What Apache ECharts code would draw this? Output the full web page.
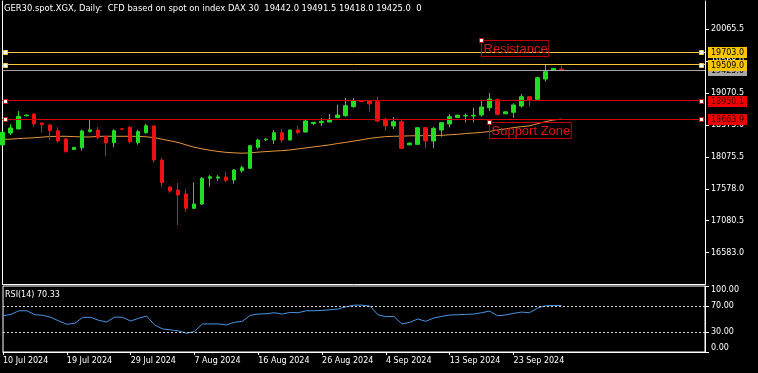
<!DOCTYPE html>
<html><head><meta charset="utf-8">
<script src="https://cdn.jsdelivr.net/npm/echarts@6/dist/echarts.min.js"></script>
<style>html,body{margin:0;padding:0;background:#000;}#c{width:758px;height:373px;}</style>
</head><body><div id="c"></div>
<script>
const dates = ['10 Jul 2024','11 Jul 2024','12 Jul 2024','14 Jul 2024','15 Jul 2024','16 Jul 2024','17 Jul 2024','18 Jul 2024','19 Jul 2024','21 Jul 2024','22 Jul 2024','23 Jul 2024','24 Jul 2024','25 Jul 2024','26 Jul 2024','28 Jul 2024','29 Jul 2024','30 Jul 2024','31 Jul 2024',
'1 Aug 2024','2 Aug 2024','4 Aug 2024','5 Aug 2024','6 Aug 2024','7 Aug 2024','8 Aug 2024','9 Aug 2024','11 Aug 2024','12 Aug 2024','13 Aug 2024','14 Aug 2024','15 Aug 2024','16 Aug 2024','18 Aug 2024','19 Aug 2024','20 Aug 2024','21 Aug 2024','22 Aug 2024','23 Aug 2024','25 Aug 2024','26 Aug 2024','27 Aug 2024','28 Aug 2024','29 Aug 2024','30 Aug 2024',
'1 Sep 2024','2 Sep 2024','3 Sep 2024','4 Sep 2024','5 Sep 2024','6 Sep 2024','8 Sep 2024','9 Sep 2024','10 Sep 2024','11 Sep 2024','12 Sep 2024','13 Sep 2024','15 Sep 2024','16 Sep 2024','17 Sep 2024','18 Sep 2024','19 Sep 2024','20 Sep 2024','22 Sep 2024','23 Sep 2024','24 Sep 2024','25 Sep 2024','26 Sep 2024','27 Sep 2024','29 Sep 2024','30 Sep 2024'];

const openP  = [18260,18446,18509,18715,18742,18602,18571,18482,18353,18190,18217,18470,18493,18390,18296,18512,18535,18296,18451,18555,18026,17606,17559,17497,17274,17341,17741,17745,17761,17715,17858,17897,18224,18342,18337,18451,18337,18493,18462,18595,18607,18618,18685,18716,18857,18950,18945,18934,18660,18555,18622,18262,18270,18529,18322,18493,18587,18688,18712,18710,18727,18840,18965,18745,18769,18867,19012,18971,19287,19425,19442.0];
const highP  = [18470,18582,18790,18735,18757,18605,18591,18535,18368,18225,18498,18664,18540,18395,18504,18518,18555,18493,18591,18571,18062,17610,17668,17575,17679,17761,17792,17792,17839,17886,17937,18260,18357,18372,18493,18513,18498,18560,18664,18615,18680,18742,18887,18991,18991,18955,18950,19012,18685,18695,18650,18295,18535,18535,18540,18618,18742,18728,18753,18840,18945,19069,18987,18780,18909,19054,19027,19323,19516,19455,19491.5];
const lowP   = [18250,18415,18505,18705,18545,18451,18340,18296,18141,18188,18171,18455,18350,18088,18224,18500,18286,18264,18436,17984,17606,17517,17014,17221,17263,17325,17610,17700,17679,17657,17828,17891,18192,18318,18275,18296,18333,18426,18451,18566,18555,18615,18680,18700,18840,18932,18778,18618,18482,18509,18200,18255,18262,18208,18208,18389,18535,18684,18613,18613,18700,18789,18716,18740,18685,18840,18856,18965,19245,19420,19418.0];
const closeP = [18457,18524,18706,18725,18587,18575,18482,18322,18155,18222,18478,18495,18375,18292,18482,18505,18311,18467,18560,18026,17673,17543,17481,17274,17341,17741,17766,17762,17710,17870,17905,18249,18337,18350,18451,18337,18493,18451,18633,18612,18628,18660,18727,18872,18945,18937,18900,18633,18560,18622,18208,18290,18529,18322,18519,18607,18700,18725,18720,18722,18851,18976,18737,18776,18882,19012,18962,19307,19401,19452,19425.0];

const maValues = [18348,18350,18360,18366,18372,18382,18392,18395,18395,18390,18385,18385,18394,18396,18396,18395,18395,18394,18388,18375,18350,18325,18300,18262,18226,18200,18178,18160,18145,18138,18132,18136,18148,18157,18165,18172,18182,18198,18214,18230,18246,18262,18283,18300,18320,18340,18362,18377,18390,18395,18398,18402,18404,18405,18406,18410,18418,18426,18438,18446,18456,18470,18492,18510,18530,18545,18557,18590,18622,18648,18664];

const rsiValues = [55,57,62.5,62.5,56.5,55.5,52.5,47,42,43.5,52.5,52.5,48,45.5,53,52.5,47,51,54.5,41,35,33.5,32,28.5,31,42.5,42.5,42.5,41,45,46.5,55.5,57.5,58,59.5,57.5,60,59.5,62.5,62.5,63,64,65,68.5,71,71,69.5,56.5,53.5,54,42.5,45,50,46.5,51.5,54,56,56.5,57,57.5,59.5,62,55,56,58.5,60.5,59.5,66.5,70,70.5,70.33];

const priceTicks = [16583.0,17080.5,17578.0,18075.5,18573.0,19070.5,19568.0,20065.5];
const rsiTicks = [0,30,70,100];
const rsiLevels = [30,70];
const hLines = [
  {price:19425.0, kind:'bid'},
  {price:19703.0, kind:'res'},
  {price:19509.0, kind:'res'},
  {price:18950.1, kind:'sup'},
  {price:18663.9, kind:'sup'}
];
const textNotes = [
  {text:'Resistance', bar:60, price:19894},
  {text:'Support Zone', bar:61, price:18622}
];
const titleText = 'GER30.spot.XGX, Daily:  CFD based on spot on index DAX 30  19442.0 19491.5 19418.0 19425.0  0';
const rsiTitle = 'RSI(14) 70.33';
const emptySlots = 18;

const FONT = 'DejaVu Sans';
const nSlots = dates.length + emptySlots;
const cats = [];
for (let i = 0; i < nSlots; i++) cats.push('b' + i);
const candles = dates.map((d, i) => [openP[i], closeP[i], lowP[i], highP[i]]);

const STY = {
  res: {line:'#ffc83c', bg:'#f7c600', text:'#000000', sq:'#ffc83c'},
  sup: {line:'#d40000', bg:'#ee0000', text:'#3a0000', sq:'#e00000'},
  bid: {line:'#a8a8a8', bg:'#a8a8a8', text:'#000000'}
};
const Y_MIN = 16087.8, Y_MAX = 20501.4;

const chart = echarts.init(document.getElementById('c'), null, {renderer:'canvas'});
const labelFmt = (v, i) => (i < dates.length ? dates[i] : '');
const showIdx = (i) => i % 8 === 0 && i < dates.length;
const whiteLine = {show:true, lineStyle:{color:'#fff', width:1}};

chart.setOption({
  animation: false,
  backgroundColor: '#000',
  title: [
    {text: titleText, left: 4, top: 5, padding: 0, textStyle: {color:'#fff', fontSize:8.4, fontFamily:FONT, fontWeight:'normal'}},
    {text: rsiTitle, left: 5, top: 291, padding: 0, textStyle: {color:'#fff', fontSize:8, fontFamily:FONT, fontWeight:'normal'}}
  ],
  grid: [
    {left: 2.3, right: 53, top: 1, height: 283.5, show: false},
    {left: 2.3, right: 53, top: 286, height: 66, show: true, borderColor:'#fff', borderWidth:1, backgroundColor:'transparent'}
  ],
  xAxis: [
    {type:'category', gridIndex:0, data:cats, boundaryGap:false, axisLine:whiteLine, axisTick:{show:false}, axisLabel:{show:false}, splitLine:{show:false}},
    {type:'category', gridIndex:1, data:cats, boundaryGap:false,
     axisLine:whiteLine,
     axisTick:{show:true, length:3, interval:(i)=>showIdx(i), lineStyle:{color:'#fff'}},
     axisLabel:{show:true, interval:(i)=>showIdx(i), formatter:labelFmt, color:'#fff', fontSize:8, fontFamily:FONT, align:'left', margin:5},
     splitLine:{show:false}}
  ],
  yAxis: [
    {type:'value', gridIndex:0, position:'right', min:Y_MIN, max:Y_MAX, scale:true,
     axisLine:whiteLine,
     axisTick:{show:true, length:4, customValues:priceTicks, lineStyle:{color:'#fff'}},
     axisLabel:{show:true, customValues:priceTicks, formatter:(v)=>Number(v).toFixed(1), color:'#fff', fontSize:8, fontFamily:FONT, margin:6},
     splitLine:{show:false}},
    {type:'value', gridIndex:1, position:'right', min:0, max:100,
     axisLine:whiteLine,
     axisTick:{show:true, length:4, customValues:rsiTicks, lineStyle:{color:'#fff'}},
     axisLabel:{show:true, customValues:rsiTicks, formatter:(v)=>Number(v).toFixed(2), color:'#fff', fontSize:8, fontFamily:FONT, margin:6,
                verticalAlignMaxLabel:'top', verticalAlignMinLabel:'bottom'},
     splitLine:{show:false}},
    {type:'value', gridIndex:0, position:'left', min:Y_MIN, max:Y_MAX, scale:true,
     axisLine:whiteLine, axisTick:{show:false}, axisLabel:{show:false}, splitLine:{show:false}}
  ],
  series: [
    {type:'line', xAxisIndex:0, yAxisIndex:0, data:maValues, showSymbol:false, symbol:'none', silent:true,
     lineStyle:{color:'#e8963c', width:1}, z:2},
    {type:'candlestick', xAxisIndex:0, yAxisIndex:0, data:candles, barWidth:4, silent:true,
     itemStyle:{color:'#22dd22', color0:'#ee1111', borderColor:'#22dd22', borderColor0:'#ee1111', borderWidth:1}, z:3,
     markLine:{silent:true, symbol:['none','none'], label:{show:false}, precision:1,
       data: hLines.map(h => ({yAxis:h.price, lineStyle:{color:STY[h.kind].line, width:1, type:'solid'}}))}},
    {type:'custom', xAxisIndex:0, yAxisIndex:0, silent:true, clip:false, z:5,
     data: hLines.map(h => [0, h.price]),
     renderItem: function (params, api) {
       const h = hLines[params.dataIndex];
       const st = STY[h.kind];
       const cs = params.coordSys;
       const yr = Math.round(api.coord([0, api.value(1)])[1]);
       const x0 = Math.round(cs.x) + 1, x1 = Math.round(cs.x + cs.width);
       const ch = [
         {type:'rect', shape:{x:x1+3, y:yr-5, width:39, height:11}, style:{fill:st.bg}},
         {type:'text', x:x1+6, y:yr+0.5, style:{text:h.price.toFixed(1), fill:st.text, font:'8px "' + FONT + '"', textAlign:'left', textVerticalAlign:'middle'}}
       ];
       if (st.sq) {
         ch.push({type:'rect', shape:{x:x0+0.5, y:yr-1.5, width:4, height:4}, style:{fill:'#fff', stroke:st.sq, lineWidth:1}});
         ch.push({type:'rect', shape:{x:x1-5.5, y:yr-1.5, width:4, height:4}, style:{fill:'#fff', stroke:st.sq, lineWidth:1}});
       }
       return {type:'group', children:ch};
     }},
    {type:'custom', xAxisIndex:0, yAxisIndex:0, silent:true, clip:false, z:6,
     data: textNotes.map(n => [n.bar, n.price]),
     renderItem: function (params, api) {
       const n = textNotes[params.dataIndex];
       const p = api.coord([api.value(0), api.value(1)]);
       return {type:'group', children:[
         {type:'text', x:Math.round(p[0])+0.5, y:Math.round(p[1])+0.5, style:{text:n.text, fill:'#e01515', font:'13px "Liberation Sans"', textAlign:'left', textVerticalAlign:'top',
            borderColor:'#c00000', borderWidth:1, padding:[2,1,1,2]}},
         {type:'rect', shape:{x:Math.round(p[0])-1.5, y:Math.round(p[1])-1.5, width:4, height:4}, style:{fill:'#fff', stroke:'#e00000', lineWidth:1}}
       ]};
     }},
    {type:'line', xAxisIndex:1, yAxisIndex:1, data:rsiValues, showSymbol:false, symbol:'none', silent:true,
     lineStyle:{color:'#4a94e4', width:1},
     markLine:{silent:true, symbol:['none','none'], label:{show:false},
       lineStyle:{color:'#d8d8d8', type:[2,2], width:1},
       data: rsiLevels.map(v => ({yAxis:v}))}}
  ]
});
</script></body></html>
